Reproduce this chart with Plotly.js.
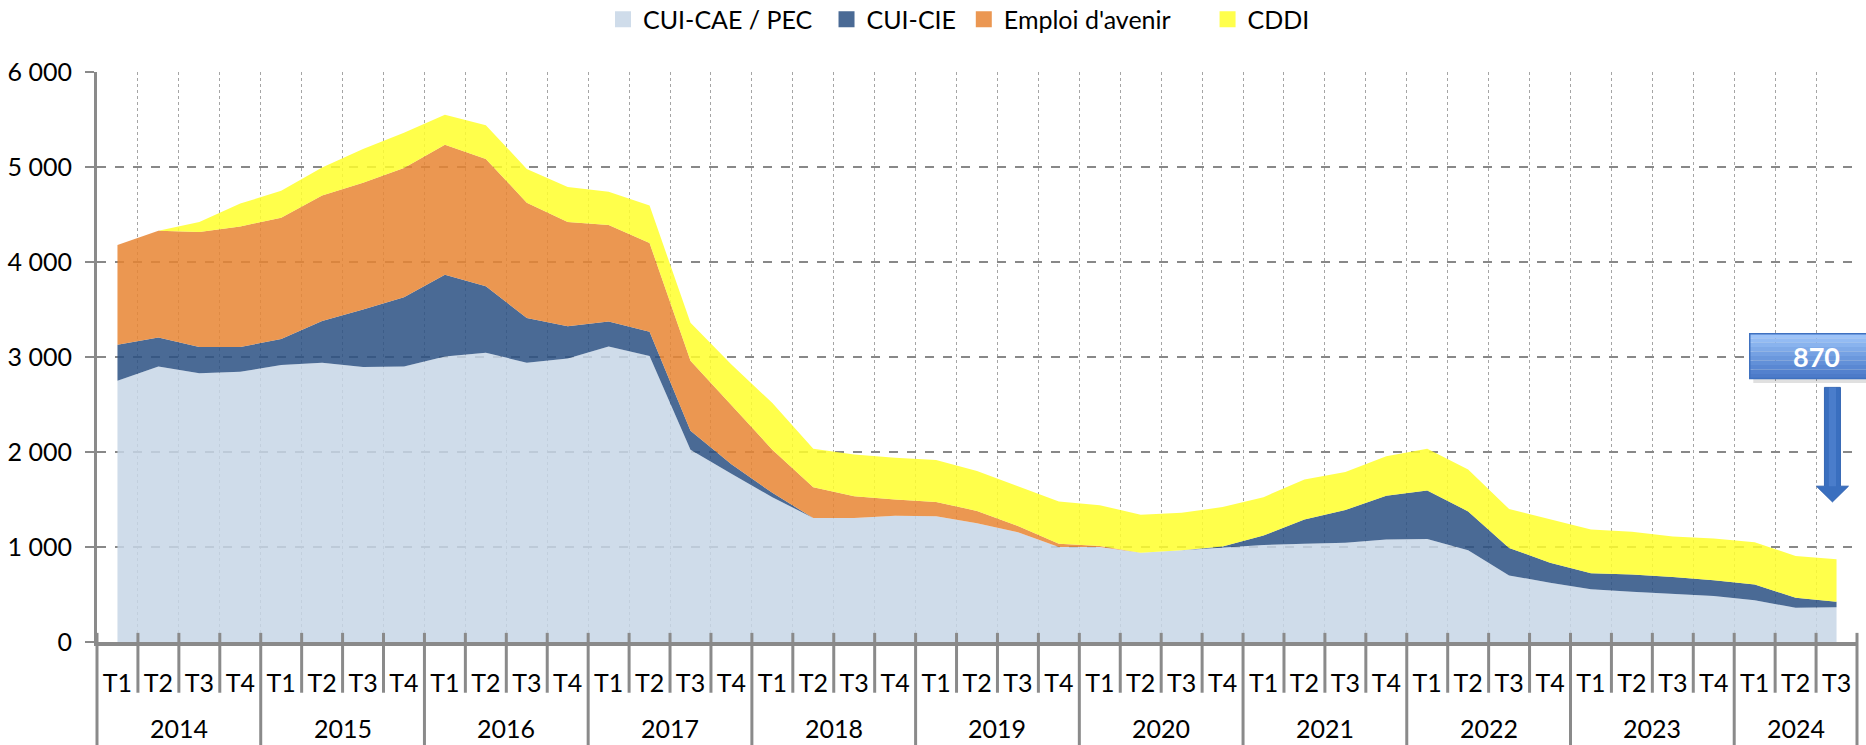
<!DOCTYPE html>
<html>
<head>
<meta charset="utf-8">
<script src="https://cdn.plot.ly/plotly-3.0.1.min.js"></script>
<style>
  html, body { margin: 0; padding: 0; background: #fff; }
  #chart { width: 1866px; height: 745px; }
</style>
</head>
<body>
<div id="chart"></div>
<script>
// ---- Data ----
const periodYear = [
  '2014','2014','2014','2014',
  '2015','2015','2015','2015',
  '2016','2016','2016','2016',
  '2017','2017','2017','2017',
  '2018','2018','2018','2018',
  '2019','2019','2019','2019',
  '2020','2020','2020','2020',
  '2021','2021','2021','2021',
  '2022','2022','2022','2022',
  '2023','2023','2023','2023',
  '2024','2024','2024'
];
const periodQuarter = [
  'T1','T2','T3','T4','T1','T2','T3','T4','T1','T2','T3','T4',
  'T1','T2','T3','T4','T1','T2','T3','T4','T1','T2','T3','T4',
  'T1','T2','T3','T4','T1','T2','T3','T4','T1','T2','T3','T4',
  'T1','T2','T3','T4','T1','T2','T3'
];
const cuiCaePec = [
  2750, 2900, 2830, 2845, 2915, 2940, 2895, 2900, 3005, 3045, 2940, 2985,
  3110, 3010, 2025, 1770, 1525, 1305, 1305, 1330, 1325, 1250, 1155, 1000,
  1000, 940, 965, 990, 1020, 1035, 1045, 1080, 1085, 965, 700, 625,
  555, 530, 510, 485, 440, 360, 365
];
const cuiCie = [
  380, 305, 275, 260, 275, 440, 605, 730, 860, 700, 470, 340,
  265, 255, 200, 100, 45, 0, 0, 0, 0, 0, 0, 0,
  0, 0, 0, 15, 100, 255, 345, 460, 510, 410, 290, 210,
  170, 180, 175, 165, 165, 105, 60
];
const emploiAvenir = [
  1050, 1125, 1210, 1270, 1275, 1320, 1335, 1360, 1370, 1340, 1215, 1095,
  1015, 935, 735, 620, 455, 325, 230, 170, 150, 130, 65, 35,
  10, 0, 0, 0, 0, 0, 0, 0, 0, 0, 0, 0,
  0, 0, 0, 0, 0, 0, 0
];
const cddi = [
  0, 0, 105, 240, 285, 295, 355, 370, 315, 355, 355, 370,
  350, 395, 400, 430, 490, 405, 440, 440, 440, 420, 420, 445,
  430, 400, 395, 415, 405, 420, 400, 415, 440, 440, 410, 455,
  460, 450, 425, 440, 445, 440, 445
];
const seriesNames = ['CUI-CAE / PEC', 'CUI-CIE', "Emploi d'avenir", 'CDDI'];
const yTicks = [0, 1000, 2000, 3000, 4000, 5000, 6000];

// ---- Styling ----
const FONT = 'Lato, "Liberation Sans", sans-serif';
const solidColors = ['#cfdcea', '#4a6a95', '#eb9752', '#ffff4c'];
const fillColors = ['rgba(199,214,230,0.85)', 'rgba(42,80,130,0.85)',
                    'rgba(231,133,51,0.85)', 'rgba(255,255,44,0.85)'];
const legendX = [0.2875, 0.4145, 0.4925, 0.631];
const seriesValues = [cuiCaePec, cuiCie, emploiAvenir, cddi];
const n = periodQuarter.length;
const xIds = periodYear.map((y, i) => y + ' ' + periodQuarter[i]);

const traces = [];
seriesValues.forEach((vals, k) => {
  traces.push({
    type: 'scatter', mode: 'lines', x: xIds, y: vals,
    stackgroup: 'one', line: { width: 0 }, fillcolor: fillColors[k],
    name: seriesNames[k], showlegend: false, hoverinfo: 'x+y+name'
  });
});
// legend entries with square swatches (one legend per entry, placed like the original)
const legendIds = ['legend', 'legend2', 'legend3', 'legend4'];
seriesValues.forEach((vals, k) => {
  traces.push({
    type: 'scatter', mode: 'markers', x: xIds, y: vals.map(() => null),
    marker: { symbol: 'square', size: 17, color: solidColors[k] },
    name: seriesNames[k], showlegend: true, hoverinfo: 'skip',
    legend: legendIds[k]
  });
});

// ---- Axis decoration shapes (category boundaries) ----
const shapes = [];
const axisGray = '#8a8a8a';
for (let k = 0; k <= n; k++) {
  const isYear = (k === 0 || k === n || periodYear[k] !== periodYear[k - 1]);
  shapes.push({
    type: 'line', xref: 'paper', yref: 'paper',
    x0: k / n, x1: k / n, y0: 0.016, y1: isYear ? -0.185 : -0.089,
    line: { color: axisGray, width: 3 }, layer: 'above'
  });
}

// ---- Year labels (second level of the category axis) ----
const annotations = [];
const yearsSeen = [];
periodYear.forEach((y) => { if (!yearsSeen.includes(y)) yearsSeen.push(y); });
yearsSeen.forEach((y) => {
  const idx = [];
  periodYear.forEach((v, i) => { if (v === y) idx.push(i); });
  const mid = (idx[0] + idx[idx.length - 1]) / 2;
  annotations.push({
    xref: 'x', yref: 'paper', x: mid, y: -0.150, text: y, showarrow: false,
    xanchor: 'center', yanchor: 'middle',
    font: { family: FONT, size: 25, color: '#000' }
  });
});

// ---- Call-out (latest total) ----
const lastTotal = cuiCaePec[n - 1] + cuiCie[n - 1] + emploiAvenir[n - 1] + cddi[n - 1];
const yMax = 6000;
const boxTop = 3245, boxBottom = 2775;          // in y units
const boxLeft = (n - 3.12 + 0.5) / n, boxRight = 1.02;   // paper
const grad = ['#9dc3f8', '#93bbf3', '#89b3ee', '#7faae8', '#75a1e3', '#6b98dd',
              '#6290d8', '#5a88d3', '#5381ce', '#4d7bc9'];
shapes.push({
  type: 'rect', xref: 'paper', yref: 'paper',
  x0: boxLeft + 0.002, x1: boxRight, y0: boxBottom / yMax - 0.008, y1: boxTop / yMax - 0.008,
  fillcolor: 'rgba(0,0,0,0.12)', line: { width: 0 }, layer: 'above'
});
for (let s = 0; s < grad.length; s++) {
  const t0 = boxTop - (boxTop - boxBottom) * s / grad.length;
  const t1 = boxTop - (boxTop - boxBottom) * (s + 1) / grad.length;
  shapes.push({
    type: 'rect', xref: 'paper', yref: 'paper',
    x0: boxLeft, x1: boxRight, y0: t1 / yMax, y1: t0 / yMax,
    fillcolor: grad[s], line: { width: 0 }, layer: 'above'
  });
}
shapes.push({
  type: 'rect', xref: 'paper', yref: 'paper',
  x0: boxLeft, x1: boxRight, y0: boxBottom / yMax, y1: boxTop / yMax,
  fillcolor: 'rgba(0,0,0,0)', line: { color: '#3f71c0', width: 1.5 }, layer: 'above'
});
// arrow
const ax = (n - 1 - 0.1 + 0.5) / n;
const shaftHalf = 8 / 1760, headHalf = 16 / 1760;
const aTop = 2680 / yMax, aHead = 1640 / yMax, aTip = 1475 / yMax;
shapes.push({
  type: 'path', xref: 'paper', yref: 'paper', layer: 'above',
  path: `M ${ax - shaftHalf},${aTop} L ${ax + shaftHalf},${aTop} L ${ax + shaftHalf},${aHead} ` +
        `L ${ax + headHalf},${aHead} L ${ax},${aTip} L ${ax - headHalf},${aHead} ` +
        `L ${ax - shaftHalf},${aHead} Z`,
  fillcolor: '#3a6fbf', line: { color: '#3466b3', width: 1 }
});
shapes.push({
  type: 'rect', xref: 'paper', yref: 'paper', layer: 'above',
  x0: ax - shaftHalf * 0.45, x1: ax + shaftHalf * 0.45, y0: aHead, y1: aTop,
  fillcolor: 'rgba(90,140,215,0.5)', line: { width: 0 }
});

annotations.push({
  xref: 'paper', yref: 'paper',
  x: (n - 1 - 0.49 + 0.5) / n, y: ((boxTop + boxBottom) / 2) / yMax,
  text: '<b>' + String(lastTotal) + '</b>', showarrow: false,
  font: { family: FONT, size: 27, color: '#ffffff' },
  xanchor: 'center', yanchor: 'middle'
});

const legendBase = {
  orientation: 'h', xanchor: 'left', y: 1.092, yanchor: 'middle',
  font: { family: FONT, size: 25, color: '#000' },
  itemwidth: 30, bgcolor: 'rgba(0,0,0,0)', borderwidth: 0
};

const layout = {
  width: 1866, height: 745,
  margin: { l: 97, r: 9, t: 72, b: 103, pad: 0, autoexpand: false },
  paper_bgcolor: '#ffffff', plot_bgcolor: '#ffffff',
  separators: ', ',
  font: { family: FONT, size: 24, color: '#000000' },
  showlegend: true,
  legend: Object.assign({}, legendBase, { x: legendX[0] }),
  legend2: Object.assign({}, legendBase, { x: legendX[1] }),
  legend3: Object.assign({}, legendBase, { x: legendX[2] }),
  legend4: Object.assign({}, legendBase, { x: legendX[3] }),
  xaxis: {
    type: 'category', range: [-0.5, n - 0.5],
    tickvals: xIds, ticktext: periodQuarter, tickson: 'boundaries',
    showgrid: true, gridcolor: '#a5a5a5', griddash: 'dot', gridwidth: 1,
    showline: true, linecolor: axisGray, linewidth: 4,
    ticks: '', ticklabelstandoff: 16, tickangle: 0,
    tickfont: { family: FONT, size: 25, color: '#000' },
    zeroline: false, fixedrange: true
  },
  yaxis: {
    range: [0, yMax], tickvals: yTicks, separatethousands: true,
    showgrid: true, gridcolor: '#888888', griddash: 'dash', gridwidth: 2,
    showline: true, linecolor: axisGray, linewidth: 3,
    ticks: 'outside', ticklen: 9, tickwidth: 2, tickcolor: axisGray,
    ticklabelstandoff: 8,
    tickfont: { family: FONT, size: 25, color: '#000' },
    zeroline: false, fixedrange: true
  },
  shapes: shapes,
  annotations: annotations
};

Plotly.newPlot('chart', traces, layout, { staticPlot: true, displayModeBar: false });
</script>
</body>
</html>
